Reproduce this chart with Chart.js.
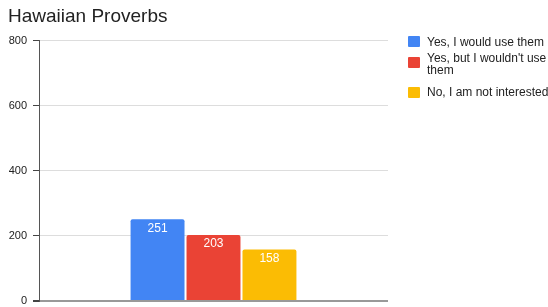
<!DOCTYPE html>
<html>
<head>
<meta charset="utf-8">
<script src="https://cdn.jsdelivr.net/npm/chart.js@4/dist/chart.umd.min.js"></script>
<style>
  html, body { margin: 0; padding: 0; background: #fff; }
  #wrap { position: relative; width: 548px; height: 307px; font-family: 'Liberation Sans', Arial, sans-serif; }
  #chart { position: absolute; left: 0; top: 0; }
  .lg-box { position: absolute; left: 408px; width: 12px; height: 11px; border-radius: 1px; }
  .lg-text { position: absolute; left: 427px; font-size: 12px; line-height: 12px; color: #222; white-space: nowrap; }
</style>
</head>
<body>
<div id="wrap">
  <canvas id="chart" width="548" height="307"></canvas>
  <div id="legend"></div>
</div>
<script>
'use strict';

const categories = [''];
const seriesNames = ['Yes, I would use them', "Yes, but I wouldn't use\nthem", 'No, I am not interested'];
const seriesValues = [[251], [203], [158]];
const seriesColors = ['#4285F4', '#EA4335', '#FBBC04'];
const yTicks = [0, 200, 400, 600, 800];

// legend drawn as html so the second label wraps like the original
const legendTops = [36, 52, 86];
const legendBoxTops = [36, 57, 87];
function renderLegend() {
  const box = document.getElementById('legend');
  seriesNames.forEach((name, i) => {
    const sq = document.createElement('div');
    sq.className = 'lg-box';
    sq.style.top = legendBoxTops[i] + 'px';
    sq.style.background = seriesColors[i];
    box.appendChild(sq);
    const t = document.createElement('div');
    t.className = 'lg-text';
    t.style.top = legendTops[i] + 'px';
    name.split('\n').forEach((line, j) => {
      if (j) t.appendChild(document.createElement('br'));
      t.appendChild(document.createTextNode(line));
    });
    box.appendChild(t);
  });
}

const barLabels = {
  id: 'barLabels',
  afterDatasetsDraw(chart) {
    const ctx = chart.ctx;
    ctx.save();
    ctx.fillStyle = '#fff';
    ctx.font = '12px "Liberation Sans", Arial, sans-serif';
    ctx.textAlign = 'center';
    ctx.textBaseline = 'middle';
    chart.data.datasets.forEach((ds, i) => {
      chart.getDatasetMeta(i).data.forEach((bar, j) => {
        ctx.fillText(String(ds.data[j]), bar.x, bar.y + 9);
      });
    });
    ctx.restore();
  }
};

new Chart(document.getElementById('chart'), {
  type: 'bar',
  data: {
    labels: categories,
    datasets: seriesNames.map((n, i) => ({
      label: n.replace('\n', ' '),
      data: seriesValues[i],
      backgroundColor: seriesColors[i],
      borderRadius: { topLeft: 2, topRight: 2 },
      borderSkipped: 'start',
      barPercentage: 0.964,
      categoryPercentage: 0.481,
    })),
  },
  options: {
    responsive: false,
    animation: false,
    layout: { padding: { left: 8, right: 160, top: 0, bottom: 6 } },
    plugins: {
      legend: { display: false },
      tooltip: { enabled: false },
      title: {
        display: true,
        text: 'Hawaiian Proverbs',
        align: 'start',
        color: '#222',
        font: { family: '"Liberation Sans", Arial, sans-serif', size: 19, weight: 'normal' },
        padding: { top: 5, bottom: 13 },
      },
    },
    scales: {
      x: { display: false },
      y: {
        min: 0,
        max: 800,
        afterBuildTicks: (s) => { s.ticks = yTicks.map((v) => ({ value: v })); },
        afterFit: (s) => { s.width = 31; s.paddingBottom = 0; },
        border: { display: true, color: '#555', width: 1 },
        grid: {
          color: (c) => (c.tick && c.tick.value === 0 ? '#999' : '#ddd'),
          lineWidth: (c) => (c.tick && c.tick.value === 0 ? 2 : 1),
          tickColor: '#444',
          tickLength: 6,
        },
        ticks: {
          color: '#222',
          padding: 6,
          font: { family: '"Liberation Sans", Arial, sans-serif', size: 11 },
        },
      },
    },
  },
  plugins: [barLabels],
});

renderLegend();
</script>
</body>
</html>
